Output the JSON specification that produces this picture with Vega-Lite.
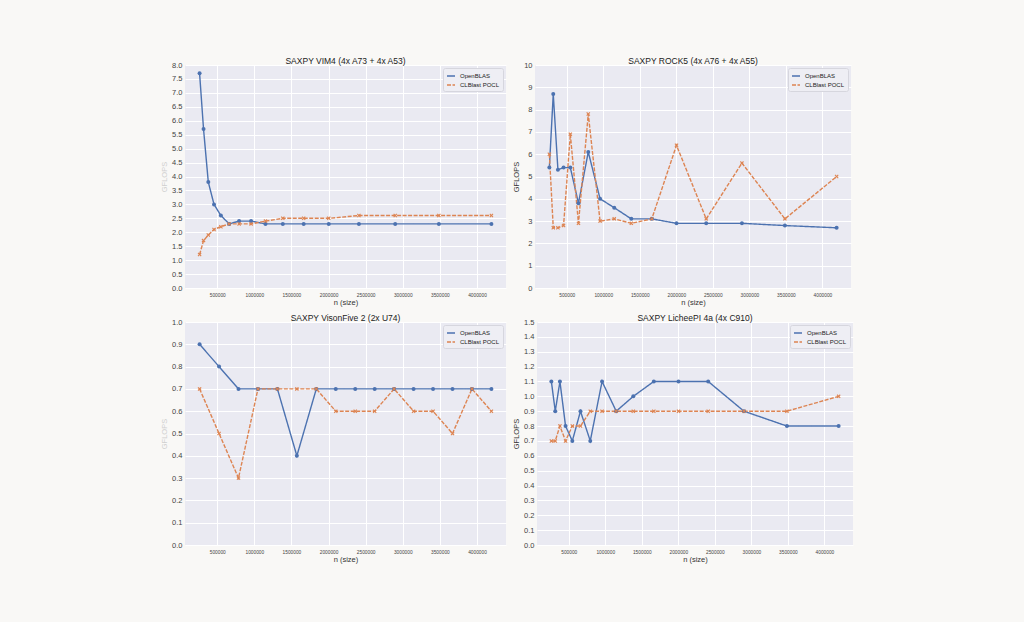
{
  "$schema": "https://vega.github.io/schema/vega-lite/v6.json",
  "background": "#f9f8f6",
  "padding": {"left": 160, "top": 56, "right": 171, "bottom": 58},
  "config": {
    "font": "Liberation Sans",
    "view": {"fill": "#eaeaf2", "stroke": null},
    "axis": {
      "grid": true, "gridColor": "#ffffff", "gridWidth": 1,
      "domain": false, "ticks": false,
      "labelColor": "#444444", "labelFontSize": 7.5, "labelPadding": 3,
      "titleColor": "#333333", "titleFontSize": 7.5, "titleFontWeight": "normal", "titlePadding": 3
    },
    "axisX": {"labelFontSize": 4.8, "labelPadding": 4, "titlePadding": 2},
    "title": {"fontSize": 8.5, "fontWeight": "normal", "color": "#222222", "offset": -4},
    "legend": {
      "labelFontSize": 6, "labelColor": "#222222",
      "fillColor": "#eeeef4", "strokeColor": "#d6d6de", "padding": 3, "cornerRadius": 2,
      "rowPadding": 1, "symbolSize": 64, "symbolStrokeWidth": 1.5, "labelOffset": 4
    },
    "concat": {"spacing": 6}
  },
  "datasets": {
    "vim4": [
      {"n": 262144, "series": "OpenBLAS", "gflops": 7.7},
      {"n": 315364, "series": "OpenBLAS", "gflops": 5.7},
      {"n": 379391, "series": "OpenBLAS", "gflops": 3.8},
      {"n": 456418, "series": "OpenBLAS", "gflops": 3.0},
      {"n": 549081, "series": "OpenBLAS", "gflops": 2.6},
      {"n": 660561, "series": "OpenBLAS", "gflops": 2.3},
      {"n": 794668, "series": "OpenBLAS", "gflops": 2.4},
      {"n": 956008, "series": "OpenBLAS", "gflops": 2.4},
      {"n": 1150111, "series": "OpenBLAS", "gflops": 2.3},
      {"n": 1383598, "series": "OpenBLAS", "gflops": 2.3},
      {"n": 1664508, "series": "OpenBLAS", "gflops": 2.3},
      {"n": 2002432, "series": "OpenBLAS", "gflops": 2.3},
      {"n": 2409005, "series": "OpenBLAS", "gflops": 2.3},
      {"n": 2898124, "series": "OpenBLAS", "gflops": 2.3},
      {"n": 3486549, "series": "OpenBLAS", "gflops": 2.3},
      {"n": 4194304, "series": "OpenBLAS", "gflops": 2.3},
      {"n": 262144, "series": "CLBlast POCL", "gflops": 1.2},
      {"n": 315364, "series": "CLBlast POCL", "gflops": 1.7},
      {"n": 379391, "series": "CLBlast POCL", "gflops": 1.9},
      {"n": 456418, "series": "CLBlast POCL", "gflops": 2.1},
      {"n": 549081, "series": "CLBlast POCL", "gflops": 2.2},
      {"n": 660561, "series": "CLBlast POCL", "gflops": 2.3},
      {"n": 794668, "series": "CLBlast POCL", "gflops": 2.3},
      {"n": 956008, "series": "CLBlast POCL", "gflops": 2.3},
      {"n": 1150111, "series": "CLBlast POCL", "gflops": 2.4},
      {"n": 1383598, "series": "CLBlast POCL", "gflops": 2.5},
      {"n": 1664508, "series": "CLBlast POCL", "gflops": 2.5},
      {"n": 2002432, "series": "CLBlast POCL", "gflops": 2.5},
      {"n": 2409005, "series": "CLBlast POCL", "gflops": 2.6},
      {"n": 2898124, "series": "CLBlast POCL", "gflops": 2.6},
      {"n": 3486549, "series": "CLBlast POCL", "gflops": 2.6},
      {"n": 4194304, "series": "CLBlast POCL", "gflops": 2.6}
    ],
    "rock5": [
      {"n": 262144, "series": "OpenBLAS", "gflops": 5.4},
      {"n": 315364, "series": "OpenBLAS", "gflops": 8.7},
      {"n": 379391, "series": "OpenBLAS", "gflops": 5.3},
      {"n": 456418, "series": "OpenBLAS", "gflops": 5.4},
      {"n": 549081, "series": "OpenBLAS", "gflops": 5.4},
      {"n": 660561, "series": "OpenBLAS", "gflops": 3.8},
      {"n": 794668, "series": "OpenBLAS", "gflops": 6.1},
      {"n": 956008, "series": "OpenBLAS", "gflops": 4.0},
      {"n": 1150111, "series": "OpenBLAS", "gflops": 3.6},
      {"n": 1383598, "series": "OpenBLAS", "gflops": 3.1},
      {"n": 1664508, "series": "OpenBLAS", "gflops": 3.1},
      {"n": 2002432, "series": "OpenBLAS", "gflops": 2.9},
      {"n": 2409005, "series": "OpenBLAS", "gflops": 2.9},
      {"n": 2898124, "series": "OpenBLAS", "gflops": 2.9},
      {"n": 3486549, "series": "OpenBLAS", "gflops": 2.8},
      {"n": 4194304, "series": "OpenBLAS", "gflops": 2.7},
      {"n": 262144, "series": "CLBlast POCL", "gflops": 6.0},
      {"n": 315364, "series": "CLBlast POCL", "gflops": 2.7},
      {"n": 379391, "series": "CLBlast POCL", "gflops": 2.7},
      {"n": 456418, "series": "CLBlast POCL", "gflops": 2.8},
      {"n": 549081, "series": "CLBlast POCL", "gflops": 6.9},
      {"n": 660561, "series": "CLBlast POCL", "gflops": 2.9},
      {"n": 794668, "series": "CLBlast POCL", "gflops": 7.8},
      {"n": 956008, "series": "CLBlast POCL", "gflops": 3.0},
      {"n": 1150111, "series": "CLBlast POCL", "gflops": 3.1},
      {"n": 1383598, "series": "CLBlast POCL", "gflops": 2.9},
      {"n": 1664508, "series": "CLBlast POCL", "gflops": 3.1},
      {"n": 2002432, "series": "CLBlast POCL", "gflops": 6.4},
      {"n": 2409005, "series": "CLBlast POCL", "gflops": 3.1},
      {"n": 2898124, "series": "CLBlast POCL", "gflops": 5.6},
      {"n": 3486549, "series": "CLBlast POCL", "gflops": 3.1},
      {"n": 4194304, "series": "CLBlast POCL", "gflops": 5.0}
    ],
    "visionfive": [
      {"n": 262144, "series": "OpenBLAS", "gflops": 0.9},
      {"n": 524288, "series": "OpenBLAS", "gflops": 0.8},
      {"n": 786432, "series": "OpenBLAS", "gflops": 0.7},
      {"n": 1048576, "series": "OpenBLAS", "gflops": 0.7},
      {"n": 1310720, "series": "OpenBLAS", "gflops": 0.7},
      {"n": 1572864, "series": "OpenBLAS", "gflops": 0.4},
      {"n": 1835008, "series": "OpenBLAS", "gflops": 0.7},
      {"n": 2097152, "series": "OpenBLAS", "gflops": 0.7},
      {"n": 2359296, "series": "OpenBLAS", "gflops": 0.7},
      {"n": 2621440, "series": "OpenBLAS", "gflops": 0.7},
      {"n": 2883584, "series": "OpenBLAS", "gflops": 0.7},
      {"n": 3145728, "series": "OpenBLAS", "gflops": 0.7},
      {"n": 3407872, "series": "OpenBLAS", "gflops": 0.7},
      {"n": 3670016, "series": "OpenBLAS", "gflops": 0.7},
      {"n": 3932160, "series": "OpenBLAS", "gflops": 0.7},
      {"n": 4194304, "series": "OpenBLAS", "gflops": 0.7},
      {"n": 262144, "series": "CLBlast POCL", "gflops": 0.7},
      {"n": 524288, "series": "CLBlast POCL", "gflops": 0.5},
      {"n": 786432, "series": "CLBlast POCL", "gflops": 0.3},
      {"n": 1048576, "series": "CLBlast POCL", "gflops": 0.7},
      {"n": 1310720, "series": "CLBlast POCL", "gflops": 0.7},
      {"n": 1572864, "series": "CLBlast POCL", "gflops": 0.7},
      {"n": 1835008, "series": "CLBlast POCL", "gflops": 0.7},
      {"n": 2097152, "series": "CLBlast POCL", "gflops": 0.6},
      {"n": 2359296, "series": "CLBlast POCL", "gflops": 0.6},
      {"n": 2621440, "series": "CLBlast POCL", "gflops": 0.6},
      {"n": 2883584, "series": "CLBlast POCL", "gflops": 0.7},
      {"n": 3145728, "series": "CLBlast POCL", "gflops": 0.6},
      {"n": 3407872, "series": "CLBlast POCL", "gflops": 0.6},
      {"n": 3670016, "series": "CLBlast POCL", "gflops": 0.5},
      {"n": 3932160, "series": "CLBlast POCL", "gflops": 0.7},
      {"n": 4194304, "series": "CLBlast POCL", "gflops": 0.6}
    ],
    "lichee": [
      {"n": 262144, "series": "OpenBLAS", "gflops": 1.1},
      {"n": 315364, "series": "OpenBLAS", "gflops": 0.9},
      {"n": 379391, "series": "OpenBLAS", "gflops": 1.1},
      {"n": 456418, "series": "OpenBLAS", "gflops": 0.8},
      {"n": 549081, "series": "OpenBLAS", "gflops": 0.7},
      {"n": 660561, "series": "OpenBLAS", "gflops": 0.9},
      {"n": 794668, "series": "OpenBLAS", "gflops": 0.7},
      {"n": 956008, "series": "OpenBLAS", "gflops": 1.1},
      {"n": 1150111, "series": "OpenBLAS", "gflops": 0.9},
      {"n": 1383598, "series": "OpenBLAS", "gflops": 1.0},
      {"n": 1664508, "series": "OpenBLAS", "gflops": 1.1},
      {"n": 2002432, "series": "OpenBLAS", "gflops": 1.1},
      {"n": 2409005, "series": "OpenBLAS", "gflops": 1.1},
      {"n": 2898124, "series": "OpenBLAS", "gflops": 0.9},
      {"n": 3486549, "series": "OpenBLAS", "gflops": 0.8},
      {"n": 4194304, "series": "OpenBLAS", "gflops": 0.8},
      {"n": 262144, "series": "CLBlast POCL", "gflops": 0.7},
      {"n": 315364, "series": "CLBlast POCL", "gflops": 0.7},
      {"n": 379391, "series": "CLBlast POCL", "gflops": 0.8},
      {"n": 456418, "series": "CLBlast POCL", "gflops": 0.7},
      {"n": 549081, "series": "CLBlast POCL", "gflops": 0.8},
      {"n": 660561, "series": "CLBlast POCL", "gflops": 0.8},
      {"n": 794668, "series": "CLBlast POCL", "gflops": 0.9},
      {"n": 956008, "series": "CLBlast POCL", "gflops": 0.9},
      {"n": 1150111, "series": "CLBlast POCL", "gflops": 0.9},
      {"n": 1383598, "series": "CLBlast POCL", "gflops": 0.9},
      {"n": 1664508, "series": "CLBlast POCL", "gflops": 0.9},
      {"n": 2002432, "series": "CLBlast POCL", "gflops": 0.9},
      {"n": 2409005, "series": "CLBlast POCL", "gflops": 0.9},
      {"n": 2898124, "series": "CLBlast POCL", "gflops": 0.9},
      {"n": 3486549, "series": "CLBlast POCL", "gflops": 0.9},
      {"n": 4194304, "series": "CLBlast POCL", "gflops": 1.0}
    ]
  },
  "resolve": {"scale": {"color": "independent", "strokeDash": "independent"}, "legend": {"color": "independent", "strokeDash": "independent"}},
  "spacing": 6,
  "vconcat": [
    {
      "hconcat": [
        {
          "width": 321, "height": 223,
          "title": "SAXPY VIM4 (4x A73 + 4x A53)",
          "data": {"name": "vim4"},
          "encoding": {
            "x": {"field": "n", "type": "quantitative", "scale": {"domain": [65536, 4390912], "nice": false, "zero": false}, "axis": {"values": [500000, 1000000, 1500000, 2000000, 2500000, 3000000, 3500000, 4000000], "format": "d", "title": "n (size)"}},
            "y": {"field": "gflops", "type": "quantitative", "scale": {"domain": [0, 8], "nice": false}, "axis": {"values": [0, 0.5, 1, 1.5, 2, 2.5, 3, 3.5, 4, 4.5, 5, 5.5, 6, 6.5, 7, 7.5, 8], "format": ".1f", "title": "GFLOPS", "titleColor": "#cfcfcf"}}
          },
          "layer": [
            {"mark": {"type": "line", "strokeWidth": 1.4},
             "encoding": {
               "color": {"field": "series", "type": "nominal", "scale": {"domain": ["OpenBLAS", "CLBlast POCL"], "range": ["#4c72b0", "#dd8452"]}, "legend": {"orient": "top-right", "title": null, "offset": 3, "symbolType": "stroke"}},
               "strokeDash": {"field": "series", "type": "nominal", "scale": {"domain": ["OpenBLAS", "CLBlast POCL"], "range": [[1, 0], [4, 1.5]]}, "legend": {"orient": "top-right", "title": null, "offset": 3, "symbolType": "stroke"}}
             }},
            {"mark": {"type": "point", "filled": true, "size": 16, "opacity": 1, "shape": "circle"},
             "transform": [{"filter": "datum.series == 'OpenBLAS'"}],
             "encoding": {"color": {"value": "#4c72b0"}}},
            {"mark": {"type": "point", "filled": true, "size": 16, "opacity": 1, "shape": "M-1,-0.6L-0.6,-1L0,-0.4L0.6,-1L1,-0.6L0.4,0L1,0.6L0.6,1L0,0.4L-0.6,1L-1,0.6L-0.4,0Z"},
             "transform": [{"filter": "datum.series == 'CLBlast POCL'"}],
             "encoding": {"color": {"value": "#dd8452"}}}
          ]
        },
        {
          "width": 316, "height": 223,
          "title": "SAXPY ROCK5 (4x A76 + 4x A55)",
          "data": {"name": "rock5"},
          "encoding": {
            "x": {"field": "n", "type": "quantitative", "scale": {"domain": [65536, 4390912], "nice": false, "zero": false}, "axis": {"values": [500000, 1000000, 1500000, 2000000, 2500000, 3000000, 3500000, 4000000], "format": "d", "title": "n (size)"}},
            "y": {"field": "gflops", "type": "quantitative", "scale": {"domain": [0, 10], "nice": false}, "axis": {"values": [0, 1, 2, 3, 4, 5, 6, 7, 8, 9, 10], "format": "d", "title": "GFLOPS"}}
          },
          "layer": [
            {"mark": {"type": "line", "strokeWidth": 1.4},
             "encoding": {
               "color": {"field": "series", "type": "nominal", "scale": {"domain": ["OpenBLAS", "CLBlast POCL"], "range": ["#4c72b0", "#dd8452"]}, "legend": {"orient": "top-right", "title": null, "offset": 3, "symbolType": "stroke"}},
               "strokeDash": {"field": "series", "type": "nominal", "scale": {"domain": ["OpenBLAS", "CLBlast POCL"], "range": [[1, 0], [4, 1.5]]}, "legend": {"orient": "top-right", "title": null, "offset": 3, "symbolType": "stroke"}}
             }},
            {"mark": {"type": "point", "filled": true, "size": 16, "opacity": 1, "shape": "circle"},
             "transform": [{"filter": "datum.series == 'OpenBLAS'"}],
             "encoding": {"color": {"value": "#4c72b0"}}},
            {"mark": {"type": "point", "filled": true, "size": 16, "opacity": 1, "shape": "M-1,-0.6L-0.6,-1L0,-0.4L0.6,-1L1,-0.6L0.4,0L1,0.6L0.6,1L0,0.4L-0.6,1L-1,0.6L-0.4,0Z"},
             "transform": [{"filter": "datum.series == 'CLBlast POCL'"}],
             "encoding": {"color": {"value": "#dd8452"}}}
          ]
        }
      ],
      "resolve": {"scale": {"color": "independent", "strokeDash": "independent"}, "legend": {"color": "independent", "strokeDash": "independent"}}
    },
    {
      "hconcat": [
        {
          "width": 321, "height": 223,
          "title": "SAXPY VisonFive 2 (2x U74)",
          "data": {"name": "visionfive"},
          "encoding": {
            "x": {"field": "n", "type": "quantitative", "scale": {"domain": [65536, 4390912], "nice": false, "zero": false}, "axis": {"values": [500000, 1000000, 1500000, 2000000, 2500000, 3000000, 3500000, 4000000], "format": "d", "title": "n (size)"}},
            "y": {"field": "gflops", "type": "quantitative", "scale": {"domain": [0, 1], "nice": false}, "axis": {"values": [0, 0.1, 0.2, 0.3, 0.4, 0.5, 0.6, 0.7, 0.8, 0.9, 1], "format": ".1f", "title": "GFLOPS", "titleColor": "#cfcfcf"}}
          },
          "layer": [
            {"mark": {"type": "line", "strokeWidth": 1.4},
             "encoding": {
               "color": {"field": "series", "type": "nominal", "scale": {"domain": ["OpenBLAS", "CLBlast POCL"], "range": ["#4c72b0", "#dd8452"]}, "legend": {"orient": "top-right", "title": null, "offset": 3, "symbolType": "stroke"}},
               "strokeDash": {"field": "series", "type": "nominal", "scale": {"domain": ["OpenBLAS", "CLBlast POCL"], "range": [[1, 0], [4, 1.5]]}, "legend": {"orient": "top-right", "title": null, "offset": 3, "symbolType": "stroke"}}
             }},
            {"mark": {"type": "point", "filled": true, "size": 16, "opacity": 1, "shape": "circle"},
             "transform": [{"filter": "datum.series == 'OpenBLAS'"}],
             "encoding": {"color": {"value": "#4c72b0"}}},
            {"mark": {"type": "point", "filled": true, "size": 16, "opacity": 1, "shape": "M-1,-0.6L-0.6,-1L0,-0.4L0.6,-1L1,-0.6L0.4,0L1,0.6L0.6,1L0,0.4L-0.6,1L-1,0.6L-0.4,0Z"},
             "transform": [{"filter": "datum.series == 'CLBlast POCL'"}],
             "encoding": {"color": {"value": "#dd8452"}}}
          ]
        },
        {
          "width": 316, "height": 223,
          "title": "SAXPY LicheePI 4a (4x C910)",
          "data": {"name": "lichee"},
          "encoding": {
            "x": {"field": "n", "type": "quantitative", "scale": {"domain": [65536, 4390912], "nice": false, "zero": false}, "axis": {"values": [500000, 1000000, 1500000, 2000000, 2500000, 3000000, 3500000, 4000000], "format": "d", "title": "n (size)"}},
            "y": {"field": "gflops", "type": "quantitative", "scale": {"domain": [0, 1.5], "nice": false}, "axis": {"values": [0, 0.1, 0.2, 0.3, 0.4, 0.5, 0.6, 0.7, 0.8, 0.9, 1, 1.1, 1.2, 1.3, 1.4, 1.5], "format": ".1f", "title": "GFLOPS"}}
          },
          "layer": [
            {"mark": {"type": "line", "strokeWidth": 1.4},
             "encoding": {
               "color": {"field": "series", "type": "nominal", "scale": {"domain": ["OpenBLAS", "CLBlast POCL"], "range": ["#4c72b0", "#dd8452"]}, "legend": {"orient": "top-right", "title": null, "offset": 3, "symbolType": "stroke"}},
               "strokeDash": {"field": "series", "type": "nominal", "scale": {"domain": ["OpenBLAS", "CLBlast POCL"], "range": [[1, 0], [4, 1.5]]}, "legend": {"orient": "top-right", "title": null, "offset": 3, "symbolType": "stroke"}}
             }},
            {"mark": {"type": "point", "filled": true, "size": 16, "opacity": 1, "shape": "circle"},
             "transform": [{"filter": "datum.series == 'OpenBLAS'"}],
             "encoding": {"color": {"value": "#4c72b0"}}},
            {"mark": {"type": "point", "filled": true, "size": 16, "opacity": 1, "shape": "M-1,-0.6L-0.6,-1L0,-0.4L0.6,-1L1,-0.6L0.4,0L1,0.6L0.6,1L0,0.4L-0.6,1L-1,0.6L-0.4,0Z"},
             "transform": [{"filter": "datum.series == 'CLBlast POCL'"}],
             "encoding": {"color": {"value": "#dd8452"}}}
          ]
        }
      ],
      "resolve": {"scale": {"color": "independent", "strokeDash": "independent"}, "legend": {"color": "independent", "strokeDash": "independent"}}
    }
  ]
}
